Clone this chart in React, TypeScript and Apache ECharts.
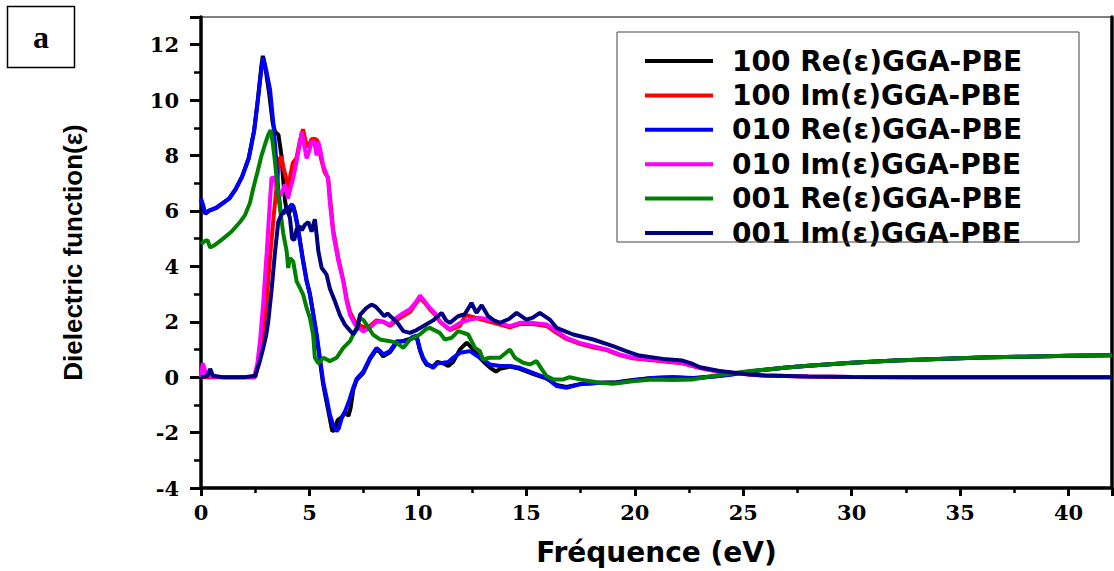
import React, { useEffect, useRef } from "react";
import * as echarts from "echarts";

// Energy (eV) vs dielectric function values
const re100: number[][] = [
  [0, 6.4], [0.1, 6.15], [0.2, 5.9], [0.35, 6.0], [0.7, 6.1], [1.0, 6.27], [1.3, 6.44], [1.6, 6.78], [1.9, 7.25], [2.2, 7.9],
  [2.45, 8.9], [2.62, 10.0], [2.78, 11.2], [2.85, 11.6], [3.0, 11.0], [3.15, 10.2], [3.3, 9.2], [3.42, 8.85], [3.57, 8.75], [3.71, 8.0],
  [3.78, 7.2], [3.87, 6.4], [3.95, 6.0], [4.05, 5.9], [4.15, 6.1], [4.25, 6.2], [4.35, 5.9], [4.45, 5.5], [4.56, 4.95], [4.7, 4.25],
  [4.87, 3.5], [5.02, 3.0], [5.17, 2.3], [5.33, 1.5], [5.48, 0.6], [5.63, -0.25], [5.79, -0.9], [5.94, -1.5], [6.05, -1.95], [6.15, -1.9],
  [6.3, -1.55], [6.48, -1.45], [6.65, -1.25], [6.8, -1.4], [6.9, -1.1], [7.02, -0.45], [7.18, -0.1], [7.48, 0.15], [7.79, 0.65], [8.09, 1.0],
  [8.25, 0.9], [8.4, 0.75], [8.71, 0.9], [9.02, 1.25], [9.3, 1.3], [9.5, 1.35], [9.75, 1.4], [9.94, 1.45], [10.1, 0.95], [10.24, 0.65],
  [10.4, 0.45], [10.7, 0.38], [10.9, 0.55], [11.16, 0.5], [11.4, 0.4], [11.62, 0.55], [11.94, 1.0], [12.25, 1.25], [12.5, 1.05], [12.86, 0.7],
  [13.1, 0.5], [13.32, 0.35], [13.6, 0.2], [13.78, 0.3], [14.24, 0.38], [14.7, 0.3], [15.3, 0.12], [15.93, -0.05], [16.39, -0.28], [16.85, -0.35],
  [17.46, -0.25], [18.39, -0.2], [19.15, -0.18], [19.9, -0.1], [20.8, -0.03], [21.75, 0.0], [22.7, -0.03], [23.8, 0.04], [24.5, 0.11], [25.1, 0.18],
  [26, 0.27], [27, 0.35], [28, 0.41], [29, 0.47], [30, 0.52], [32, 0.6], [34, 0.66], [36, 0.71], [38, 0.74], [40, 0.77], [42, 0.79],
];

const im100: number[][] = [
  [0, 0], [0.5, 0], [1, 0], [2, 0], [2.5, 0], [2.7, 0.6], [2.9, 1.8], [3.05, 3.0], [3.2, 4.5], [3.35, 5.8],
  [3.5, 7.0], [3.62, 7.9], [3.71, 7.95], [3.82, 7.5], [3.94, 7.15], [4.02, 6.7], [4.12, 7.3], [4.24, 7.75], [4.4, 7.9], [4.55, 8.5],
  [4.7, 8.95], [4.8, 8.6], [4.9, 8.3], [5.02, 8.45], [5.1, 8.6], [5.25, 8.6], [5.36, 8.55], [5.45, 8.2], [5.56, 7.8], [5.7, 7.4],
  [5.86, 7.2], [5.96, 6.4], [6.1, 5.3], [6.33, 4.3], [6.56, 3.5], [6.71, 2.85], [6.87, 2.35], [7.1, 2.0], [7.48, 1.8], [7.79, 1.85],
  [8.09, 2.05], [8.4, 2.0], [8.71, 1.85], [9.02, 2.05], [9.3, 2.2], [9.63, 2.35], [9.9, 2.65], [10.1, 2.85], [10.3, 2.7], [10.55, 2.45],
  [10.8, 2.25], [11.01, 2.0], [11.47, 1.7], [11.94, 1.85], [12.2, 2.25], [12.4, 2.2], [12.86, 2.1], [13.32, 2.0], [13.78, 1.9], [14.24, 1.8],
  [14.7, 1.92], [15.3, 1.92], [15.93, 1.85], [16.39, 1.6], [16.85, 1.38], [17.46, 1.2], [18.07, 1.08], [18.7, 0.98], [19.3, 0.8], [19.9, 0.68],
  [20.7, 0.62], [21.45, 0.56], [22.2, 0.5], [23.0, 0.33], [23.75, 0.21], [24.5, 0.15], [25.3, 0.1], [26, 0.06], [27, 0.04], [28, 0.02],
  [30, 0.01], [33, 0], [42, 0],
];

const re010: number[][] = [
  [0, 6.45], [0.1, 6.2], [0.2, 5.9], [0.35, 6.0], [0.7, 6.12], [1.0, 6.28], [1.3, 6.45], [1.6, 6.8], [1.9, 7.25], [2.2, 7.9],
  [2.45, 8.9], [2.62, 10.0], [2.78, 11.1], [2.87, 11.55], [3.0, 11.1], [3.18, 10.4], [3.33, 9.2], [3.45, 8.0], [3.56, 6.8], [3.67, 6.0],
  [3.8, 5.9], [3.95, 6.1], [4.1, 6.15], [4.2, 6.25], [4.3, 6.0], [4.41, 5.6], [4.56, 4.9], [4.7, 4.2], [4.87, 3.45], [5.02, 3.0],
  [5.17, 2.3], [5.33, 1.55], [5.48, 0.7], [5.63, -0.15], [5.79, -0.75], [5.94, -1.35], [6.1, -1.75], [6.25, -1.95], [6.35, -1.85], [6.48, -1.5],
  [6.6, -1.3], [6.71, -1.1], [6.85, -0.8], [7.02, -0.38], [7.18, -0.05], [7.48, 0.2], [7.79, 0.7], [8.09, 1.05], [8.25, 0.95], [8.4, 0.82],
  [8.71, 0.94], [9.02, 1.3], [9.3, 1.3], [9.5, 1.3], [9.75, 1.45], [9.94, 1.5], [10.1, 1.0], [10.24, 0.7], [10.4, 0.5], [10.7, 0.34],
  [10.9, 0.5], [11.16, 0.52], [11.4, 0.55], [11.62, 0.7], [11.94, 0.88], [12.4, 0.94], [12.86, 0.7], [13.32, 0.46], [13.78, 0.4], [14.24, 0.4],
  [14.7, 0.34], [15.3, 0.16], [15.93, -0.03], [16.39, -0.32], [16.85, -0.38], [17.46, -0.26], [18.39, -0.2], [19.15, -0.2], [19.9, -0.12], [20.8, -0.03],
  [21.75, 0.0], [22.7, -0.05], [23.8, 0.03], [24.5, 0.1], [25.1, 0.18], [26, 0.27], [27, 0.35], [28, 0.41], [29, 0.47], [30, 0.52],
  [32, 0.6], [34, 0.66], [36, 0.71], [38, 0.74], [40, 0.77], [42, 0.79],
];

const im010: number[][] = [
  [0, 0], [0.08, 0.5], [0.15, 0.35], [0.25, 0.05], [0.5, 0.02], [1, 0], [1.5, 0], [2.0, 0], [2.45, 0], [2.6, 0.5],
  [2.72, 1.3], [2.87, 2.7], [3.03, 4.5], [3.15, 6.0], [3.25, 7.2], [3.38, 7.2], [3.5, 6.8], [3.64, 6.55], [3.75, 6.7], [3.87, 6.95],
  [4.01, 6.45], [4.12, 6.8], [4.24, 7.15], [4.41, 7.8], [4.55, 8.4], [4.64, 8.85], [4.75, 8.4], [4.87, 7.9], [5.0, 8.2], [5.1, 8.5],
  [5.22, 8.5], [5.33, 8.0], [5.41, 8.5], [5.5, 8.2], [5.63, 7.65], [5.75, 7.4], [5.86, 7.15], [5.94, 6.3], [6.1, 5.15], [6.33, 4.2],
  [6.56, 3.45], [6.71, 2.75], [6.87, 2.25], [7.1, 1.9], [7.48, 1.65], [7.79, 1.78], [8.09, 2.0], [8.4, 2.0], [8.71, 1.9], [9.02, 2.15],
  [9.3, 2.3], [9.63, 2.45], [9.9, 2.7], [10.1, 2.95], [10.3, 2.75], [10.55, 2.5], [10.8, 2.3], [11.01, 2.02], [11.47, 1.73], [11.94, 1.96],
  [12.4, 2.08], [12.86, 2.14], [13.32, 2.08], [13.78, 1.96], [14.24, 1.84], [14.7, 1.96], [15.3, 1.96], [15.93, 1.9], [16.39, 1.66], [16.85, 1.42],
  [17.46, 1.24], [18.07, 1.12], [18.7, 1.0], [19.3, 0.82], [19.9, 0.7], [20.7, 0.64], [21.45, 0.58], [22.2, 0.52], [23.0, 0.34], [23.75, 0.22],
  [24.5, 0.16], [25.3, 0.1], [26, 0.06], [27, 0.04], [28, 0.02], [30, 0.01], [33, 0], [42, 0],
];

const re001: number[][] = [
  [0, 4.8], [0.15, 4.9], [0.3, 4.95], [0.42, 4.68], [0.6, 4.75], [1.02, 5.0], [1.4, 5.25], [1.8, 5.6], [2.03, 5.85], [2.26, 6.3],
  [2.41, 6.82], [2.6, 7.4], [2.79, 8.0], [2.95, 8.4], [3.1, 8.75], [3.21, 8.92], [3.3, 8.5], [3.41, 7.78], [3.56, 6.58], [3.72, 5.62],
  [3.79, 5.2], [3.95, 4.54], [4.02, 3.94], [4.1, 4.3], [4.25, 4.18], [4.41, 3.46], [4.56, 3.22], [4.71, 2.98], [4.87, 2.5], [5.02, 2.14],
  [5.17, 1.54], [5.25, 0.7], [5.41, 0.5], [5.64, 0.7], [5.94, 0.58], [6.25, 0.7], [6.56, 1.06], [6.87, 1.3], [7.17, 1.78], [7.33, 2.14],
  [7.5, 2.05], [7.63, 1.9], [7.93, 1.54], [8.25, 1.36], [8.71, 1.3], [9.02, 1.24], [9.33, 1.06], [9.63, 1.35], [10.1, 1.55], [10.4, 1.75],
  [10.55, 1.78], [11.01, 1.6], [11.24, 1.36], [11.55, 1.42], [11.86, 1.66], [12.32, 1.54], [12.63, 1.06], [12.86, 0.94], [13.0, 0.64], [13.3, 0.7],
  [13.78, 0.7], [14.24, 1.0], [14.47, 0.7], [14.85, 0.52], [15.16, 0.46], [15.47, 0.58], [15.7, 0.3], [15.93, 0.04], [16.24, -0.08], [16.7, -0.08],
  [17.0, 0.0], [17.46, -0.08], [18.39, -0.2], [19.0, -0.24], [19.9, -0.15], [20.8, -0.08], [21.75, -0.1], [22.7, -0.08], [23.6, 0.04], [24.5, 0.14],
  [25.3, 0.22], [26, 0.27], [27, 0.35], [28, 0.41], [29, 0.47], [30, 0.52], [32, 0.6], [34, 0.66], [36, 0.71], [38, 0.74],
  [40, 0.77], [42, 0.79],
];

const im001: number[][] = [
  [0, 0], [0.3, 0.05], [0.42, 0.3], [0.55, 0.05], [1, 0], [2, 0], [2.5, 0.05], [2.56, 0.2], [2.72, 0.6], [2.87, 1.05],
  [3.0, 1.5], [3.1, 2.0], [3.26, 3.2], [3.41, 4.5], [3.56, 5.6], [3.7, 5.85], [3.85, 6.0], [3.95, 6.1], [4.1, 5.75], [4.2, 5.0],
  [4.3, 4.95], [4.41, 5.35], [4.55, 5.45], [4.65, 5.3], [4.79, 5.5], [4.95, 5.6], [5.1, 5.25], [5.25, 5.7], [5.33, 5.15], [5.41, 4.55],
  [5.56, 3.95], [5.79, 3.7], [5.94, 3.2], [6.17, 2.75], [6.4, 2.25], [6.63, 1.9], [6.85, 1.7], [7.02, 1.55], [7.2, 1.75], [7.33, 2.25],
  [7.63, 2.5], [7.86, 2.62], [8.05, 2.55], [8.25, 2.38], [8.45, 2.2], [8.6, 2.3], [8.8, 2.15], [9.02, 2.0], [9.33, 1.66], [9.63, 1.6],
  [9.94, 1.7], [10.24, 1.84], [10.7, 2.05], [11.09, 2.32], [11.3, 2.05], [11.47, 1.96], [11.85, 2.2], [12.16, 2.27], [12.47, 2.68], [12.7, 2.32],
  [12.94, 2.6], [13.24, 2.2], [13.5, 2.05], [13.78, 1.96], [14.2, 2.1], [14.55, 2.32], [15.0, 2.08], [15.3, 2.15], [15.62, 2.32], [16.08, 2.08],
  [16.39, 1.78], [16.8, 1.65], [17.16, 1.54], [18.08, 1.36], [19.0, 1.12], [19.6, 0.94], [20.2, 0.78], [21.3, 0.66], [22.2, 0.6], [22.6, 0.5],
  [23.0, 0.36], [23.9, 0.22], [25.3, 0.1], [26, 0.06], [27, 0.04], [28, 0.02], [30, 0.01], [33, 0], [42, 0],
];

const seriesNames = [
  "100 Re(ε)GGA-PBE",
  "100 Im(ε)GGA-PBE",
  "010 Re(ε)GGA-PBE",
  "010 Im(ε)GGA-PBE",
  "001 Re(ε)GGA-PBE",
  "001 Im(ε)GGA-PBE",
];
const seriesData = [re100, im100, re010, im010, re001, im001];
const seriesColors = ["#000000", "#ff0000", "#0000ff", "#ff00ff", "#008000", "#000080"];

const xTitle = "Fréquence (eV)";
const yTitle = "Dielectric function(ε)";
const panelLabel = "a";

export default function App() {
  const ref = useRef<HTMLDivElement>(null);
  useEffect(() => {
    if (!ref.current) return;
    const chart = echarts.init(ref.current, undefined, { renderer: "svg" });
    const tickLabel = {
      fontFamily: "DejaVu Serif",
      fontWeight: "bold" as const,
      fontSize: 21,
      color: "#000",
    };
    chart.setOption({
      animation: false,
      backgroundColor: "#fff",
      grid: {
        left: 201,
        right: 2,
        top: 17,
        bottom: 78,
        show: true,
        borderColor: "#000",
        borderWidth: 1,
      },
      legend: {
        orient: "vertical",
        left: 645,
        top: 47,
        icon: "rect",
        itemWidth: 68,
        itemHeight: 4,
        itemGap: 6.4,
        padding: 0,
        data: seriesNames,
        textStyle: {
          fontFamily: "DejaVu Sans",
          fontWeight: "bold",
          fontSize: 28,
          lineHeight: 27,
          color: "#000",
          padding: [0, 0, 0, 14],
        },
      },
      xAxis: [
        {
          type: "value",
          min: 0,
          max: 42,
          interval: 5,
          position: "bottom",
          axisLine: { show: true, onZero: false, lineStyle: { color: "#000", width: 3.5 } },
          axisTick: { show: true, inside: false, length: 8, lineStyle: { color: "#000", width: 3 } },
          minorTick: { show: true, splitNumber: 2, length: 5, lineStyle: { color: "#000", width: 2.5 } },
          splitLine: { show: false },
          axisLabel: { ...tickLabel, margin: 14, showMaxLabel: false },
          name: xTitle,
          nameLocation: "middle",
          nameGap: 50,
          nameTextStyle: {
            fontFamily: "DejaVu Sans",
            fontWeight: "bold",
            fontSize: 28,
            color: "#000",
          },
        },
      ],
      yAxis: [
        {
          type: "value",
          min: -4,
          max: 13,
          interval: 2,
          position: "left",
          axisLine: { show: true, onZero: false, lineStyle: { color: "#000", width: 3.5 } },
          axisTick: { show: true, inside: false, length: 11, lineStyle: { color: "#000", width: 3 } },
          minorTick: { show: true, splitNumber: 2, length: 7, lineStyle: { color: "#000", width: 2.5 } },
          splitLine: { show: false },
          axisLabel: { ...tickLabel, margin: 22, showMaxLabel: false },
          name: yTitle,
          nameLocation: "middle",
          nameGap: 115,
          nameRotate: 90,
          nameTextStyle: {
            fontFamily: "Liberation Sans",
            fontWeight: "bold",
            fontSize: 26,
            color: "#000",
          },
        },
        {
          type: "value",
          min: -4,
          max: 13,
          position: "right",
          axisLine: { show: true, onZero: false, lineStyle: { color: "#000", width: 3.5 } },
          axisTick: { show: false },
          axisLabel: { show: false },
          splitLine: { show: false },
        },
      ],
      graphic: [
        {
          type: "rect",
          shape: { x: 617, y: 32, width: 462, height: 210 },
          style: { fill: "none", stroke: "#444", lineWidth: 1 },
          z: 10,
        },
        {
          type: "rect",
          shape: { x: 7.5, y: 6.5, width: 67, height: 61 },
          style: { fill: "none", stroke: "#000", lineWidth: 1.5 },
        },
        {
          type: "text",
          x: 41,
          y: 37,
          style: {
            text: panelLabel,
            fontFamily: "Liberation Serif",
            fontWeight: "bold",
            fontSize: 32,
            fill: "#000",
            align: "center",
            verticalAlign: "middle",
          },
        },
      ],
      series: seriesNames.map((name, i) => ({
        name,
        type: "line",
        data: seriesData[i],
        showSymbol: false,
        symbol: "none",
        color: seriesColors[i],
        lineStyle: { color: seriesColors[i], width: 4 },
        clip: true,
        z: 2 + i,
      })),
    });
    return () => chart.dispose();
  }, []);
  return (
    <div
      ref={ref}
      style={{ position: "fixed", left: 0, top: 0, width: 1114, height: 571 }}
    />
  );
}
